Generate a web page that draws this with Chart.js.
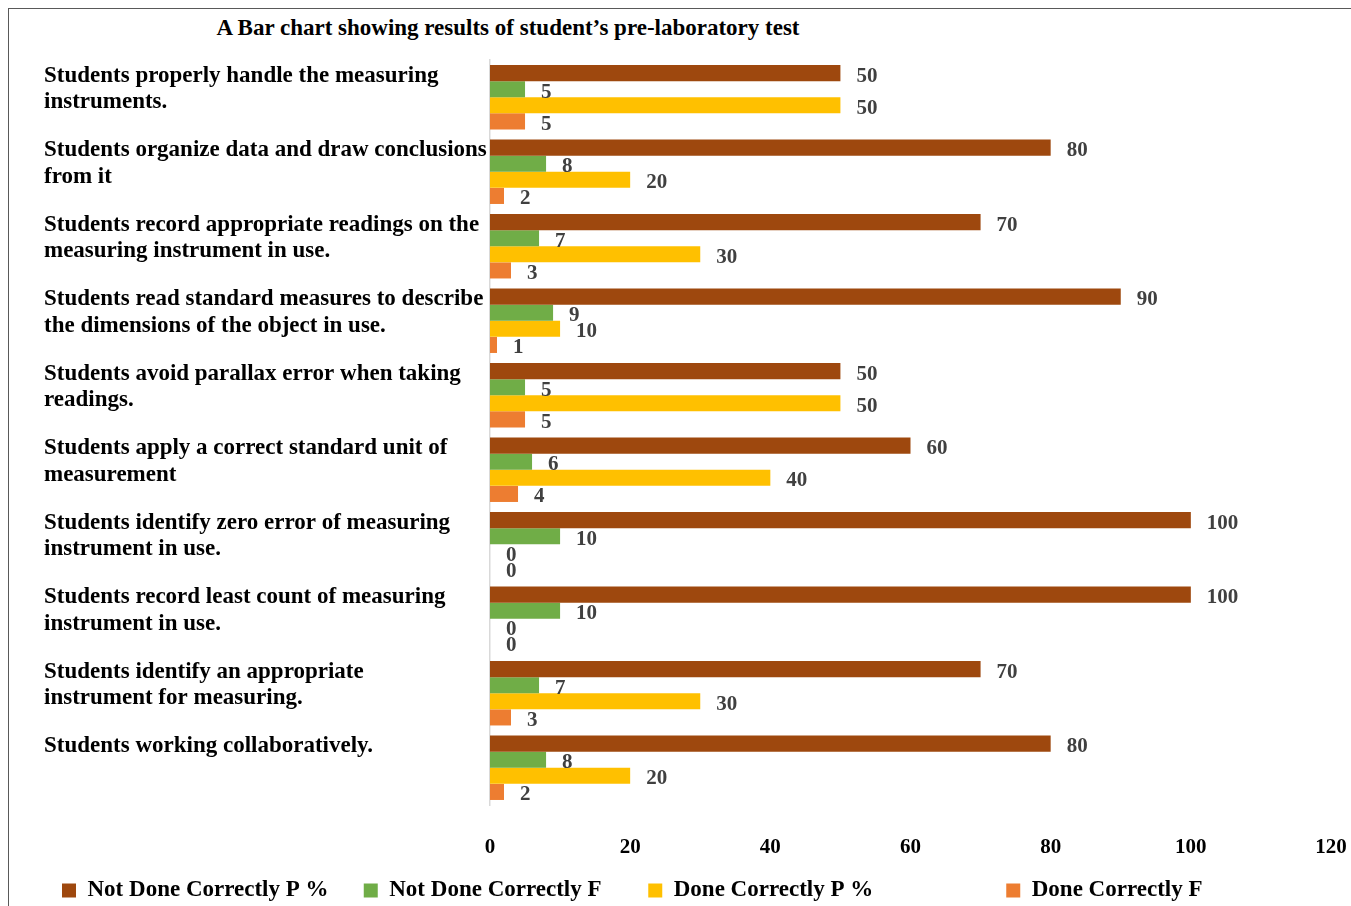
<!DOCTYPE html>
<html>
<head>
<meta charset="utf-8">
<script src="https://cdn.jsdelivr.net/npm/chart.js@4.4.0/dist/chart.umd.min.js"></script>
<style>
  html, body { margin: 0; padding: 0; background: #fff; }
  #wrap { position: relative; width: 1351px; height: 906px; }
  #frame { position: absolute; left: 8px; top: 8px; width: 1360px; height: 910px;
           border-left: 1.5px solid #595959; border-top: 1.5px solid #595959; }
  #title { position: absolute; left: 0; width: 1016px; top: 15px; text-align: center;
           font: bold 23px "Liberation Serif", serif; color: #000; }
  canvas { position: absolute; left: 0; top: 0; }
</style>
</head>
<body>
<div id="wrap">
  <div id="frame"></div>
  <div id="title">A Bar chart showing results of student’s pre-laboratory test</div>
  <canvas id="chart" width="1351" height="906"></canvas>
</div>
<script>
// ---- data ----
const categories = [
    ["Students properly handle the measuring", "instruments."],
    ["Students organize data and draw conclusions", "from it"],
    ["Students record appropriate readings on the", "measuring instrument in use."],
    ["Students read standard measures to describe", "the dimensions of the object in use."],
    ["Students avoid parallax error when taking", "readings."],
    ["Students apply a correct standard unit of", "measurement"],
    ["Students identify zero error of measuring", "instrument in use."],
    ["Students record least count of measuring", "instrument in use."],
    ["Students identify an appropriate", "instrument for measuring."],
    ["Students working collaboratively.", ""]
];
const notDoneP = [50, 80, 70, 90, 50, 60, 100, 100, 70, 80];
const notDoneF = [5, 8, 7, 9, 5, 6, 10, 10, 7, 8];
const doneP    = [50, 20, 30, 10, 50, 40, 0, 0, 30, 20];
const doneF    = [5, 2, 3, 1, 5, 4, 0, 0, 3, 2];
const xTicks   = [0, 20, 40, 60, 80, 100, 120];

const serif = "'Liberation Serif', 'Times New Roman', serif";

// value labels at the end of each bar
const valueLabels = {
    id: "valueLabels",
    afterDatasetsDraw(chart) {
        const ctx = chart.ctx;
        ctx.save();
        ctx.font = "bold 21px " + serif;
        ctx.fillStyle = "#404040";
        ctx.textAlign = "left";
        ctx.textBaseline = "middle";
        chart.data.datasets.forEach((ds, i) => {
            const meta = chart.getDatasetMeta(i);
            meta.data.forEach((bar, j) => {
                const v = ds.data[j];
                if (v === null || v === undefined) return;
                ctx.fillText(String(v), bar.x + 16, bar.y + 3);
            });
        });
        ctx.restore();
    }
};

// legend a bit shorter than its default box
const tightLegend = {
    id: "tightLegend",
    beforeInit(chart) {
        const fit = chart.legend.fit;
        chart.legend.fit = function () {
            fit.bind(chart.legend)();
            this.height -= 8;
        };
    }
};

// extra room after each legend entry (uneven, like the original)
const legendTrail = [3, 5, 20, 0];

new Chart(document.getElementById("chart"), {
    type: "bar",
    data: {
        labels: categories,
        datasets: [
            { label: "Not Done Correctly P %", data: notDoneP, backgroundColor: "#9E480E" },
            { label: "Not Done Correctly F",   data: notDoneF, backgroundColor: "#70AD47" },
            { label: "Done Correctly P %",     data: doneP,    backgroundColor: "#FFC000" },
            { label: "Done Correctly F",       data: doneF,    backgroundColor: "#ED7D31" }
        ]
    },
    options: {
        indexAxis: "y",
        responsive: false,
        animation: false,
        datasets: { bar: { categoryPercentage: 0.865, barPercentage: 1.0 } },
        layout: { padding: { top: 60, right: 0, bottom: 2, left: 44 } },
        plugins: {
            title: { display: false },
            tooltip: { enabled: false },
            legend: {
                position: "bottom",
                align: "start",
                labels: {
                    boxWidth: 14,
                    boxHeight: 14,
                    padding: 18,
                    color: "#000",
                    font: { family: serif, size: 23, weight: "bold" },
                    generateLabels: (chart) =>
                        Chart.defaults.plugins.legend.labels.generateLabels(chart).map((item, i) => {
                            item.text = item.text + "\u00A0".repeat(legendTrail[i]);
                            return item;
                        })
                }
            }
        },
        scales: {
            x: {
                min: 0,
                max: 120,
                afterBuildTicks: (scale) => { scale.ticks = xTicks.map(v => ({ value: v })); },
                afterFit: (scale) => { scale.height = 56; scale.paddingRight = 20; },
                grid: { display: false },
                border: { display: false },
                ticks: {
                    padding: 22,
                    color: "#000",
                    font: { family: serif, size: 21, weight: "bold" }
                }
            },
            y: {
                afterFit: (scale) => { scale.width = 446; },
                grid: { display: false },
                border: { display: true, color: "#d9d9d9", width: 1.5 },
                ticks: {
                    crossAlign: "far",
                    labelOffset: -8,
                    color: "#000",
                    font: { family: serif, size: 23, weight: "bold", lineHeight: 1.15 }
                }
            }
        }
    },
    plugins: [valueLabels, tightLegend]
});
</script>
</body>
</html>
